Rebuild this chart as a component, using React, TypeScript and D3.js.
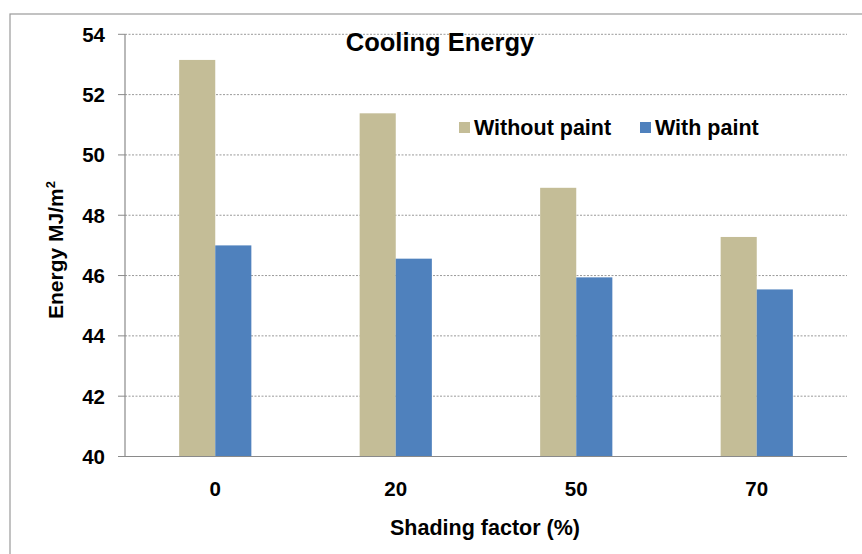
import React from "react";
import * as d3 from "d3";

const categories = ["0", "20", "50", "70"];
const seriesNames = ["Without paint", "With paint"];
const withoutPaint = [53.15, 51.38, 48.91, 47.28];
const withPaint = [47.0, 46.56, 45.94, 45.54];
const yTicks = [40, 42, 44, 46, 48, 50, 52, 54];
const colors = ["#C4BD97", "#4F81BD"];

const W = 862;
const H = 554;
const left = 125;
const right = 847;
const top = 34.3;
const bottom = 456.5;
const font = "'Liberation Sans', Arial, sans-serif";

export default function App() {
  const x = d3
    .scaleBand<string>()
    .domain(categories)
    .range([left, right])
    .paddingInner(0.6)
    .paddingOuter(0.3);
  const inner = d3.scaleBand<number>().domain([0, 1]).range([0, x.bandwidth()]);
  const y = d3.scaleLinear().domain([40, 54]).range([bottom, top]);
  const series = [withoutPaint, withPaint];

  return (
    <svg
      width={W}
      height={H}
      style={{ position: "absolute", left: 0, top: 0, background: "#fff" }}
      fontFamily={font}
    >
      <rect x={10} y={14} width={900} height={700} fill="#fff" stroke="#9a9a9a" strokeWidth={1.2} />
      {yTicks.map((t) => (
        <g key={t}>
          {t !== 40 && (
            <line
              x1={left}
              x2={right}
              y1={y(t)}
              y2={y(t)}
              stroke="#9a9a9a"
              strokeWidth={1}
              strokeDasharray="2,1.5"
            />
          )}
          <line x1={118} x2={left} y1={y(t)} y2={y(t)} stroke="#8a8a8a" strokeWidth={1} />
          <text
            x={105}
            y={y(t)}
            dy="0.36em"
            textAnchor="end"
            fontSize={20.5}
            fontWeight="bold"
            fill="#000"
          >
            {t}
          </text>
        </g>
      ))}
      {categories.map((c, i) => (
        <g key={c}>
          {series.map((s, j) => (
            <rect
              key={j}
              x={(x(c) as number) + (inner(j) as number)}
              y={y(s[i])}
              width={inner.bandwidth()}
              height={bottom - y(s[i])}
              fill={colors[j]}
            />
          ))}
          <text
            x={(x(c) as number) + x.bandwidth() / 2}
            y={496}
            textAnchor="middle"
            fontSize={20.5}
            fontWeight="bold"
          >
            {c}
          </text>
        </g>
      ))}
      <line x1={left} x2={left} y1={top} y2={bottom} stroke="#8a8a8a" strokeWidth={1.2} />
      <line x1={left} x2={right} y1={bottom} y2={bottom} stroke="#8a8a8a" strokeWidth={1.2} />
      <text x={440} y={50.5} textAnchor="middle" fontSize={25.5} fontWeight="bold">
        Cooling Energy
      </text>
      {seriesNames.map((n, j) => {
        const lx = j === 0 ? 459 : 640;
        return (
          <g key={n}>
            <rect x={lx} y={122} width={11} height={11} fill={colors[j]} />
            <text x={lx + 15} y={135} fontSize={21.5} fontWeight="bold">
              {n}
            </text>
          </g>
        );
      })}
      <text x={485} y={535} textAnchor="middle" fontSize={21.5} fontWeight="bold">
        Shading factor (%)
      </text>
      <text
        transform={`translate(63,250) rotate(-90)`}
        textAnchor="middle"
        fontSize={21}
        fontWeight="bold"
      >
        Energy MJ/m<tspan dy="-8" fontSize={13}>2</tspan>
      </text>
    </svg>
  );
}
